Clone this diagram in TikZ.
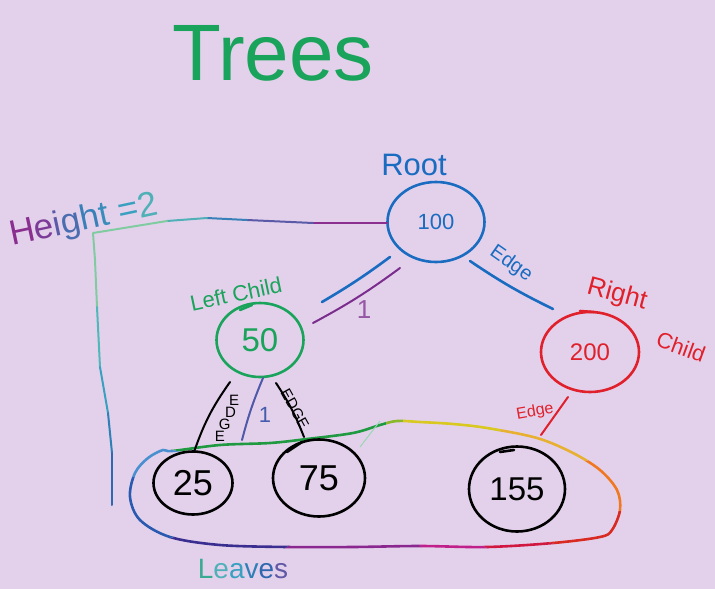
\documentclass[tikz,border=0pt]{standalone}
\usepackage{fontspec}
\setmainfont{Liberation Sans}
\usetikzlibrary{shapes.geometric}
\definecolor{bg}{HTML}{E3D1EC}
\definecolor{cblue}{HTML}{1A6CC0}
\definecolor{cgreen}{HTML}{1AA35A}
\definecolor{cred}{HTML}{E0202A}
\definecolor{cpurple}{HTML}{7B2D8E}
\definecolor{cindigo}{HTML}{5058A8}
% rainbow
\definecolor{rgreen}{HTML}{1F9A40}
\definecolor{rygreen}{HTML}{8AB82A}
\definecolor{ryellow}{HTML}{D8C820}
\definecolor{rgold}{HTML}{E8B030}
\definecolor{rorange}{HTML}{F07820}
\definecolor{rred}{HTML}{D82A20}
\definecolor{rcrimson}{HTML}{D01840}
\definecolor{rmagenta}{HTML}{C0208A}
\definecolor{rpurple}{HTML}{8A2890}
\definecolor{rindigo}{HTML}{3A2F90}
\definecolor{rblue}{HTML}{2A5AB0}
\definecolor{rlblue}{HTML}{4A90D0}
% height line
\definecolor{h1}{HTML}{8A2E90}
\definecolor{h2}{HTML}{5A5AA8}
\definecolor{h3}{HTML}{3A80B8}
\definecolor{h4}{HTML}{50B0B8}
\definecolor{h5}{HTML}{80CCA0}
\definecolor{h6}{HTML}{50B8B8}
\definecolor{h7}{HTML}{3AA0C0}
\definecolor{h8}{HTML}{3080B8}
\definecolor{h9}{HTML}{3068B0}
\newcommand\myfs[1]{\fontsize{#1}{#1}\selectfont}
\tikzset{
  hand/.style={line width=2.6pt, line cap=round, line join=round},
  thinhand/.style={line width=2pt, line cap=round, line join=round},
  bubble/.style={shape=ellipse, draw, hand, inner sep=0pt},
  lbl/.style={inner sep=0pt}
}
\begin{document}
\begin{tikzpicture}[x=1pt,y=-1pt]
\fill[bg] (0,0) rectangle (715,589);
\useasboundingbox (0,0) rectangle (715,589);

% title
\node[lbl, text=cgreen, font=\myfs{80}] (title) at (273,53) {Trees};

% rainbow leaves loop
\foreach \a/\b/\c in {191/235/rgreen,235/277/rgreen,277/290/rygreen,290/334/ryellow,334/352/rgold,352/365/rorange,5/17/rred,17/28/rcrimson,28/53/rmagenta,53/100/rpurple,100/148/rpurple,148/167/rindigo,167/183/rblue,183/191/rlblue}{
  \begin{scope}
    \clip (378,490) -- +(\a:900) -- +(\b:900) -- cycle;
    \draw[line width=2.6pt, color=\c] plot[smooth cycle, tension=0.55] coordinates {
      (172,451) (220,445) (270,443) (307,439) (353,433) (380,425) (397,421) (420,422)
      (453,424) (487,428) (537,438) (573,453) (600,470) (617,490) (620,510) (612,530)
      (600,537) (553,543) (487,547) (420,546) (353,547) (287,547) (220,545) (170,537)
      (140,520) (130,497) (135,473) (148,458) (163,450)};
  \end{scope}
}
\draw[line width=1pt, color=h5!80] (360,447) -- (380,421);

% nodes
\node[bubble, draw=cblue, text=cblue, font=\myfs{22}, minimum width=97pt, minimum height=80pt] (root) at (436,222) {100};
\node[bubble, draw=cgreen, text=cgreen, font=\myfs{33}, minimum width=87pt, minimum height=74pt] (left) at (260,340) {50};
\node[bubble, draw=cred, text=cred, font=\myfs{24}, minimum width=98pt, minimum height=80pt] (right) at (590,352) {200};
\node[bubble, draw=black, font=\myfs{36}, minimum width=79pt, minimum height=63pt] (n25) at (193,483) {25};
\node[bubble, draw=black, font=\myfs{36}, minimum width=92pt, minimum height=77pt] (n75) at (319,478) {75};
\node[bubble, draw=black, font=\myfs{33}, minimum width=96pt, minimum height=85pt] (n155) at (517,489) {155};

% small overlap hooks
\draw[hand, cgreen] (240,310) -- (252,305);
\draw[hand, cred] (580,311) -- (594,312);
\draw[hand, black] (287,452) -- (302,442);
\draw[hand, black] (500,452) -- (514,450);

% labels
\node[lbl, text=cblue, font=\myfs{31}] (rootlbl) at (414,165) {Root};
\node[lbl, text=cgreen, font=\myfs{22}, rotate=12] (leftlbl) at (236,294) {Left Child};
\node[lbl, text=cred, font=\myfs{26}, rotate=-15] (rightlbl) at (617,295) {Right};
\node[lbl, text=cred, font=\myfs{22}, rotate=-20] (childlbl) at (681,347) {Child};

% edges root
\coordinate (rl1) at (390,257); \coordinate (rl2) at (322,302);
\draw[hand, cblue] (rl1) to[bend left=3] (rl2);
\coordinate (pl1) at (400,268); \coordinate (pl2) at (313,323);
\draw[thinhand, cpurple] (pl1) to[bend left=4] (pl2);
\node[lbl, text=cpurple!80, font=\myfs{26}] (one1) at (364,310) {1};
\coordinate (rr1) at (470,261); \coordinate (rr2) at (553,309);
\draw[hand, cblue] (rr1) to[bend right=4] (rr2);
\node[lbl, text=cblue, font=\myfs{20}, rotate=-35] (edgeblue) at (511,264) {Edge};

% edges to leaves
\coordinate (a1) at (230,382); \coordinate (a2) at (194,452);
\draw[thinhand, black] (a1) to[bend right=8] (a2);
\node[lbl, font=\myfs{15}, align=left] (edgel) at (227,418) {\hspace{14pt}E\\[-3pt]\hspace{10pt}D\\[-3pt]\hspace{4pt}G\\[-3pt]E};
\coordinate (p1) at (263,378); \coordinate (p2) at (242,440);
\draw[thinhand, cindigo] (p1) to[bend right=4] (p2);
\node[lbl, text=cindigo!80!cblue, font=\myfs{22}] (one2) at (265,415) {1};
\coordinate (b1) at (276,383); \coordinate (b2) at (304,437);
\draw[thinhand, black] (b1) to[bend left=6] (b2);
\node[lbl, font=\myfs{15}, rotate=-61] (edger) at (295,409) {EDGE};
\coordinate (c1) at (568,397); \coordinate (c2) at (541,435);
\draw[thinhand, cred] (c1) -- (c2);
\node[lbl, text=cred, font=\myfs{16}, rotate=10] (edgered) at (535,412) {Edge};

% height line
\coordinate (q0) at (387,223);
\coordinate (q1) at (313,223);
\coordinate (q2) at (247,220);
\coordinate (q3) at (207,218);
\coordinate (q4) at (167,221);
\coordinate (q5) at (93,233);
\coordinate (q6) at (95,260);
\coordinate (q7) at (97,307);
\coordinate (q8) at (100,367);
\coordinate (q9) at (108,413);
\coordinate (q10) at (112,453);
\coordinate (q11) at (112,505);
\draw[thinhand, h1] (q0) -- (q1);
\draw[thinhand, h2] (q1) -- (q2);
\draw[thinhand, h3] (q2) -- (q3);
\draw[thinhand, h4] (q3) -- (q4);
\draw[thinhand, h5] (q4) -- (q5) -- (q6) -- (q7);
\draw[thinhand, h6] (q7) -- (q8);
\draw[thinhand, h7] (q8) -- (q9);
\draw[thinhand, h8] (q9) -- (q10);
\draw[thinhand, h9] (q10) -- (q11);

\node[lbl, font=\myfs{35}, rotate=12] (height) at (84,221)
  {\textcolor{h1}{H}\textcolor{h1!70!h2}{e}\textcolor{h2}{i}\textcolor{h2!50!h3}{g}\textcolor{h3}{h}\textcolor{h3!60!h7}{t} \textcolor{h7}{=}\textcolor{h4}{2}};

\node[lbl, font=\myfs{28}] (leaves) at (243,569)
  {\textcolor{h4!60!cgreen}{L}\textcolor{h4}{e}\textcolor{h7}{a}\textcolor{h8}{v}\textcolor{h9}{e}\textcolor{rindigo!80}{s}};
\end{tikzpicture}
\end{document}
